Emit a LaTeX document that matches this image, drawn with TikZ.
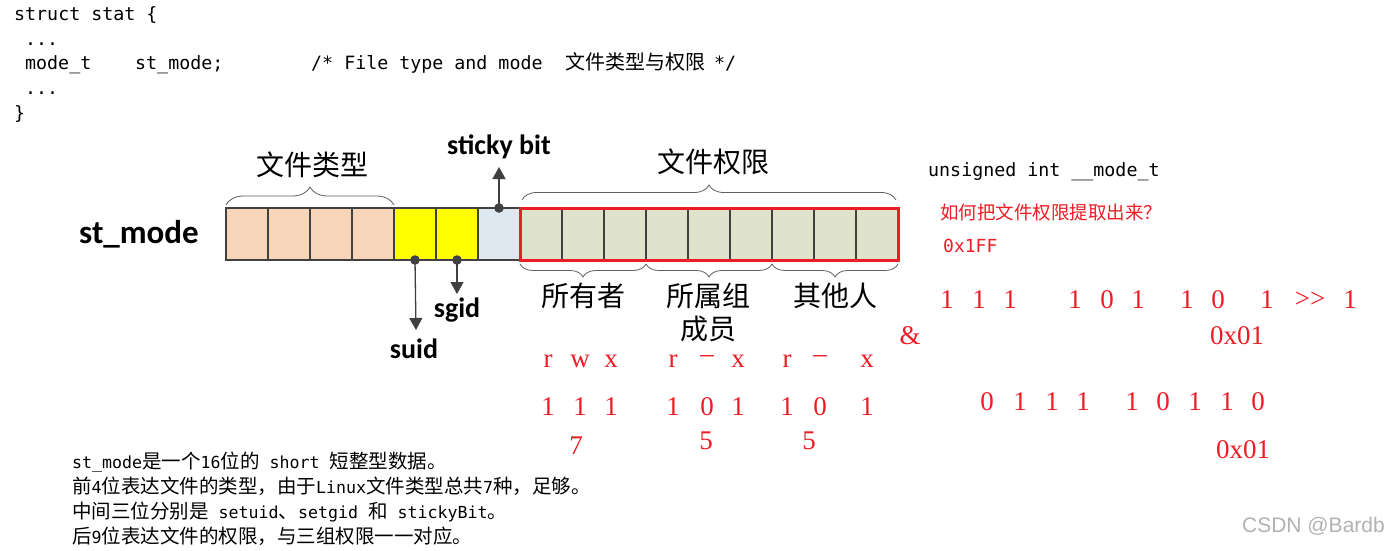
\documentclass[tikz,border=0pt]{standalone}
\usepackage{fontspec}
\setmainfont{Liberation Serif}
\newfontfamily\fcjk{Noto Sans CJK SC}
\newfontfamily\fmono{DejaVu Sans Mono}
\newfontfamily\fcal{Carlito}
\newcommand\mynm{\fmono\fontsize{16.6}{18}\selectfont}
\newcommand\myzh{\fcjk\fontsize{19.5}{21}\selectfont}
\usetikzlibrary{decorations.pathreplacing,arrows.meta}
\definecolor{peach}{HTML}{F7D5B9}
\definecolor{ylw}{HTML}{FFFF00}
\definecolor{lblue}{HTML}{DEE8F1}
\definecolor{lgreen}{HTML}{DFE3CB}
\definecolor{edge}{HTML}{404040}
\definecolor{rd}{HTML}{EE1C25}
\definecolor{brcol}{HTML}{606060}
\begin{document}
\begin{tikzpicture}[x=1pt,y=-1pt,
  cell/.style={draw=edge, line width=1.2pt, minimum width=42pt, minimum height=52pt, inner sep=0pt, outer sep=0pt},
  brc/.style={draw=brcol, line width=0.8pt, decorate, decoration={brace, amplitude=#1}},
  brcm/.style={draw=brcol, line width=0.8pt, decorate, decoration={brace, mirror, amplitude=#1}},
  arr/.style={draw=edge, line width=1.3pt, -{Triangle[width=13pt,length=12pt]}},
  code/.style={anchor=base west, inner sep=0pt, font=\fmono\fontsize{18.3}{20}\selectfont},
  codecjk/.style={anchor=base west, inner sep=0pt, font=\fcjk\fontsize{20}{22}\selectfont},
  big/.style={inner sep=0pt, font=\fcal\bfseries\fontsize{28}{30}\selectfont},
  cjlab/.style={inner sep=0pt, font=\fcjk\fontsize{28}{30}\selectfont},
  rdig/.style={inner sep=0pt, text=rd, font=\fontsize{27}{29}\selectfont},
  note/.style={anchor=base west, inner sep=0pt},
]
\useasboundingbox[fill=white] (0,0) rectangle (1394,551);

% code block
\node[code] (l1) at (14,21) {struct stat \{};
\node[code] (l2) at (25,45.5) {...};
\node[code] (l3a) at (25,70) {mode\_t};
\node[code] (l3b) at (135,70) {st\_mode;};
\node[code] (l3c) at (311,70) {/* File type and mode};
\node[codecjk] (l3d) at (565,70) {文件类型与权限};
\node[code] (l3e) at (714,70) {*/};
\node[code] (l4) at (25,94.5) {...};
\node[code] (l5) at (14,119) {\}};

% cells
\foreach \i/\c in {0/peach,1/peach,2/peach,3/peach,4/ylw,5/ylw,6/lblue,7/lgreen,8/lgreen,9/lgreen,10/lgreen,11/lgreen,12/lgreen,13/lgreen,14/lgreen,15/lgreen}
  \node[cell, fill=\c] (c\i) at ({247+42*\i},234) {};
\draw[rd, line width=3pt] (c7.north west) rectangle (c15.south east);

% braces
\draw[brc=18pt] ([yshift=3pt]c0.north west) -- ([yshift=3pt]c3.north east);
\draw[brc=15pt] ([xshift=2pt,yshift=8pt]c7.north west) -- ([xshift=-2pt,yshift=8pt]c15.north east);
\draw[brcm=13pt] ([yshift=-4pt]c7.south west) -- ([yshift=-4pt]c9.south east);
\draw[brcm=13pt] ([yshift=-4pt]c10.south west) -- ([yshift=-4pt]c12.south east);
\draw[brcm=13pt] ([yshift=-4pt]c13.south west) -- ([yshift=-4pt]c15.south east);

% labels
\node[big, font=\fcal\bfseries\fontsize{33}{35}\selectfont] (stm) at (139,234) {st\_mode};
\node[cjlab] (ftype) at (312,165) {文件类型};
\node[cjlab] (fperm) at (713,162) {文件权限};
\node[cjlab] (own) at (583,296) {所有者};
\node[cjlab] (grp) at (708,296) {所属组};
\node[cjlab] (grp2) at (708,329) {成员};
\node[cjlab] (oth) at (835,296) {其他人};
\node[big] (stk) at (499,147) {sticky bit};
\node[big] (sgid) at (457,310) {sgid};
\node[big] (suid) at (414,349) {suid};

% arrows
\coordinate (stkt) at (499,167);
\coordinate (sgidt) at (457,294);
\coordinate (suidt) at (416,330);
\draw[arr] (c6.north) -- (stkt);
\draw[arr] (c4.south) -- (suidt);
\draw[arr] (c5.south) -- (sgidt);
\fill[edge] (c6.north) circle (4.8pt);
\fill[edge] (c4.south) circle (4.8pt);
\fill[edge] (c5.south) circle (4.8pt);

% rwx row
\foreach \x/\t [count=\k] in {548/r,580/w,611/x,673/r,738/x,787/r,867/x}
  \node[rdig] (rw\k) at (\x,361) {\t};
\node[rdig] (d1) at (707,359) {–};
\node[rdig] (d2) at (820,359) {–};
% digits row
\foreach \x/\t [count=\k] in {548/1,580/1,611/1,673/1,707/0,738/1,787/1,820/0,867/1}
  \node[rdig] (bd\k) at (\x,407) {\t};
\node[rdig] (s7) at (576,446) {7};
\node[rdig] (s5a) at (706,441) {5};
\node[rdig] (s5b) at (809,441) {5};

% right side
\node[code] (ut) at (928,176) {unsigned int \_\_mode\_t};
\node[anchor=base west, inner sep=0pt, text=rd, font=\fcjk\fontsize{18.5}{20}\selectfont] (q) at (940,219) {如何把文件权限提取出来？};
\node[code, text=rd, font=\fmono\fontsize{18}{20}\selectfont] (mask) at (943,252) {0x1FF};
\foreach \x/\t [count=\k] in {947/1,979/1,1010/1,1075/1,1107/0,1138/1,1187/1,1218/0,1267/1,1350/1}
  \node[rdig] (r\k) at (\x,300) {\t};
\node[rdig] (shr) at (1310,300) {{>}{>}};
\node[rdig] (amp) at (910,336) {\&};
\node[rdig] (h1) at (1237,336) {0x01};
\foreach \x/\t [count=\k] in {987/0,1020/1,1052/1,1083/1,1132/1,1163/0,1195/1,1227/1,1258/0}
  \node[rdig] (s\k) at (\x,402) {\t};
\node[rdig] (h2) at (1243,450) {0x01};

% bottom notes
\node[note] (n1) at (72,468) {{\mynm st\_mode}{\myzh 是一个}{\mynm 16}{\myzh 位的}{\mynm\ short\ }{\myzh 短整型数据。}};
\node[note] (n2) at (72,493) {{\myzh 前}{\mynm 4}{\myzh 位表达文件的类型，由于}{\mynm Linux}{\myzh 文件类型总共}{\mynm 7}{\myzh 种，足够。}};
\node[note] (n3) at (72,518) {{\myzh 中间三位分别是}{\mynm\ setuid}{\myzh 、}{\mynm setgid\ }{\myzh 和}{\mynm\ stickyBit}{\myzh 。}};
\node[note] (n4) at (72,543) {{\myzh 后}{\mynm 9}{\myzh 位表达文件的权限，与三组权限一一对应。}};

% watermark
\node[anchor=east, inner sep=0pt, text=black!30, font=\fontspec{Liberation Sans}\fontsize{21}{23}\selectfont] (wm) at (1385,526) {CSDN @Bardb};
\end{tikzpicture}
\end{document}
